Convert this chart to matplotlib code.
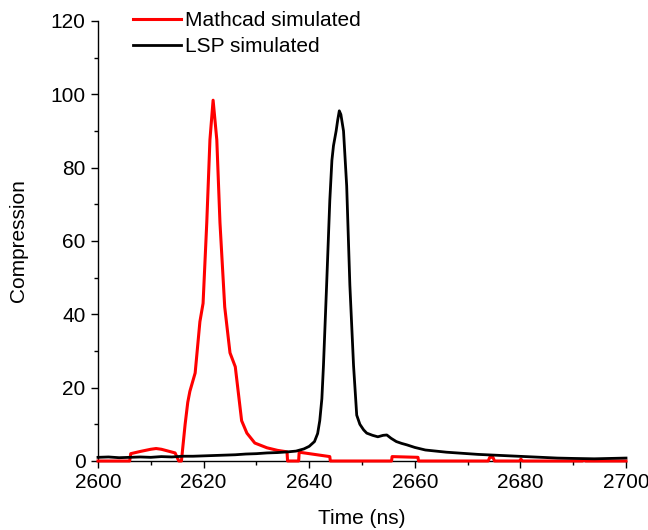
import matplotlib
matplotlib.use('Agg')
import matplotlib.pyplot as plt
from matplotlib.ticker import MultipleLocator

plt.rcParams['font.family'] = ['Liberation Sans', 'DejaVu Sans']

# Mathcad simulated (red)
mathcad_t = [2600, 2606, 2606.2, 2608, 2610, 2611, 2612, 2614.6, 2615.3, 2615.8,
             2616.5, 2617, 2617.4, 2618.4, 2619.3, 2619.9, 2620.6, 2621.2, 2621.8,
             2622.5, 2623.1, 2624, 2625, 2626, 2627.2, 2628.2, 2629.7, 2632, 2634,
             2635.8, 2635.9, 2638, 2638.1, 2641, 2643.9, 2644, 2655.6, 2655.7,
             2660.6, 2660.7, 2673.9, 2674.2, 2674.8, 2675.1, 2679.8, 2680.1,
             2680.4, 2691.8, 2692, 2692.3, 2700]
mathcad_c = [0, 0, 2.0, 2.6, 3.2, 3.4, 3.2, 2.2, 0, 0,
             10, 16, 19, 24, 38, 43, 65, 87.6, 98.4,
             87.6, 65, 42, 29.5, 25.7, 11, 7.6, 4.9, 3.6, 2.9,
             2.5, 0, 0, 2.4, 1.8, 1.2, 0, 0, 1.2,
             1.0, 0, 0, 1.0, 1.0, 0, 0, 0.5,
             0, 0, 0.4, 0, 0]

# LSP simulated (black)
lsp_t = [2600, 2602, 2604, 2606, 2608, 2610, 2612, 2614, 2616, 2618, 2620, 2622,
         2624, 2626, 2628, 2630, 2632, 2634, 2636, 2637.5, 2639, 2640, 2641,
         2641.6, 2642, 2642.4, 2642.7, 2643.3, 2643.9, 2644.3, 2644.6, 2645.1,
         2645.4, 2645.7, 2646.0, 2646.5, 2647.1, 2647.7, 2648.4, 2649, 2649.6,
         2650.3, 2650.9, 2652, 2653, 2654, 2654.7, 2655.5, 2656.5, 2657.5,
         2658.5, 2660, 2662, 2664, 2666, 2668, 2670, 2672, 2675, 2678, 2681,
         2684, 2687, 2690, 2694, 2697, 2700]
lsp_c = [1.0, 1.1, 0.9, 1.0, 1.1, 1.0, 1.2, 1.1, 1.3, 1.3, 1.4, 1.5,
         1.6, 1.7, 1.9, 2.0, 2.2, 2.3, 2.5, 2.7, 3.3, 4.0, 5.3,
         7.5, 11, 17, 26, 48, 71, 82, 86, 90,
         93, 95.5, 94.5, 90, 75, 48, 26, 12.5, 10,
         8.5, 7.6, 7.0, 6.6, 7.0, 7.1, 6.2, 5.3, 4.8,
         4.4, 3.7, 3.0, 2.7, 2.4, 2.2, 2.0, 1.8, 1.6, 1.4, 1.2,
         1.0, 0.8, 0.7, 0.6, 0.7, 0.8]

fig = plt.figure(figsize=(6.48, 5.30), dpi=100)
ax = fig.add_axes([98 / 648, 69 / 530, 528 / 648, 440 / 530])

ax.plot(mathcad_t, mathcad_c, color='#ff0000', lw=2.2, label='Mathcad simulated',
        clip_on=False, zorder=3)
ax.plot(lsp_t, lsp_c, color='black', lw=2.0, label='LSP simulated',
        clip_on=False, zorder=4)

ax.set_xlim(2600, 2700)
ax.set_ylim(0, 120)
ax.xaxis.set_major_locator(MultipleLocator(20))
ax.xaxis.set_minor_locator(MultipleLocator(10))
ax.yaxis.set_major_locator(MultipleLocator(20))
ax.yaxis.set_minor_locator(MultipleLocator(10))

for s in ['top', 'right']:
    ax.spines[s].set_visible(False)
for s in ['left', 'bottom']:
    ax.spines[s].set_linewidth(1.0)

ax.tick_params(which='major', direction='out', length=5, width=1.0,
               labelsize=15, pad=4)
ax.tick_params(which='minor', direction='out', length=3, width=1.0)

ax.set_xlabel('Time (ns)', fontsize=15, labelpad=12)
ax.set_ylabel('Compression', fontsize=15, labelpad=16)

ax.legend(loc='upper left', bbox_to_anchor=(133 / 648, 0.979),
          bbox_transform=fig.transFigure, frameon=False, fontsize=15,
          handlelength=2.3, handletextpad=0.2, labelspacing=0.35,
          borderpad=0, borderaxespad=0)

fig.savefig('out.png', dpi=100)
